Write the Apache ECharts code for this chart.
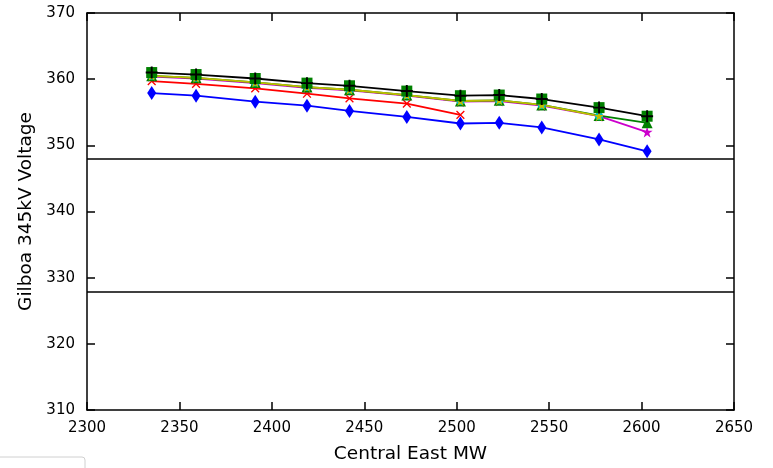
<!DOCTYPE html>
<html>
<head>
<meta charset="utf-8">
<script src="https://cdn.jsdelivr.net/npm/echarts@6/dist/echarts.min.js"></script>
<style>html,body{margin:0;padding:0;background:#fff;}#c{width:773px;height:468px;}</style>
</head>
<body>
<div id="c"></div>
<script>
const xValues = [2335, 2359, 2391, 2419, 2442, 2473, 2502, 2523, 2546, 2577, 2603];
const blackPlus = [361.0, 360.7, 360.1, 359.4, 359.0, 358.2, 357.5, 357.6, 357.0, 355.7, 354.4];
const greenSquare = [361.0, 360.7, 360.1, 359.4, 359.0, 358.2, 357.5, 357.6, 357.0, 355.7, 354.4];
const greenTriangle = [360.5, 360.2, 359.5, 358.8, 358.4, 357.6, 356.7, 356.8, 356.1, 354.5, 353.4];
const magentaStar = [360.4, 360.1, 359.4, 358.7, 358.3, 357.5, 356.6, 356.7, 356.0, 354.4, 352.0];
const yellowLine = [360.5, 360.2, 359.5, 358.8, 358.4, 357.6, 356.7, 356.8, 356.1, 354.4];
const redCross = [359.7, 359.3, 358.6, 357.8, 357.1, 356.3, 354.6];
const blueDiamond = [357.9, 357.5, 356.6, 356.0, 355.2, 354.3, 353.3, 353.4, 352.7, 350.9, 349.1];
const limitLines = [348.0, 327.8];
const xTicks = [2300, 2350, 2400, 2450, 2500, 2550, 2600, 2650];
const yTicks = [310, 320, 330, 340, 350, 360, 370];

function pairs(vals) { return vals.map((v, i) => [xValues[i], v]); }

const plusPath = 'path://M4.2,0h1.6v10h-1.6z M0,4.2h10v1.6h-10z';
const thinPlusPath = 'path://M4.4,0h1.2v10h-1.2z M0,4.4h10v1.2h-10z';
const starPath = 'path://M50,0 L61.8,35.4 L100,35.4 L69.1,57.3 L80.9,93.3 L50,71.4 L19.1,93.3 L30.9,57.3 L0,35.4 L38.2,35.4 Z';
const font = 'DejaVu Sans';

function lineSeries(name, vals, color, symbol, size, extra) {
  return Object.assign({
    name: name, type: 'line', data: pairs(vals),
    symbol: symbol, symbolSize: size,
    lineStyle: { color: color, width: 1.8 },
    itemStyle: { color: color },
    animation: false, z: 3
  }, extra || {});
}

const chart = echarts.init(document.getElementById('c'), null, { renderer: 'canvas' });
chart.setOption({
  animation: false,
  backgroundColor: '#fff',
  grid: { left: 87, right: 39, top: 13, bottom: 58, containLabel: false, outerBoundsMode: 'none' },
  xAxis: [{
    type: 'value', min: xTicks[0], max: xTicks[xTicks.length - 1], interval: 50,
    name: 'Central East MW', nameLocation: 'middle', nameGap: 35,
    nameTextStyle: { fontFamily: font, fontSize: 18.5, color: '#000' },
    axisLine: { show: true, onZero: false, lineStyle: { color: '#000', width: 1.5 } },
    axisTick: { show: true, inside: true, length: 8, lineStyle: { color: '#000', width: 1.5 } },
    axisLabel: { fontFamily: font, fontSize: 15, color: '#000', margin: 11, formatter: v => String(v) },
    splitLine: { show: false }
  }, {
    type: 'value', position: 'top', min: xTicks[0], max: xTicks[xTicks.length - 1], interval: 50,
    axisLine: { show: true, onZero: false, lineStyle: { color: '#000', width: 1.5 } },
    axisTick: { show: true, inside: true, length: 8, lineStyle: { color: '#000', width: 1.5 } },
    axisLabel: { show: false }, splitLine: { show: false }
  }],
  yAxis: [{
    type: 'value', min: yTicks[0], max: yTicks[yTicks.length - 1], interval: 10,
    name: 'Gilboa 345kV Voltage', nameLocation: 'middle', nameGap: 50, nameRotate: 90,
    nameTextStyle: { fontFamily: font, fontSize: 18.5, color: '#000' },
    axisLine: { show: true, onZero: false, lineStyle: { color: '#000', width: 1.5 } },
    axisTick: { show: true, inside: true, length: 8, lineStyle: { color: '#000', width: 1.5 } },
    axisLabel: { fontFamily: font, fontSize: 15, color: '#000', margin: 12 },
    splitLine: { show: false }
  }, {
    type: 'value', position: 'right', min: yTicks[0], max: yTicks[yTicks.length - 1], interval: 10,
    axisLine: { show: true, onZero: false, lineStyle: { color: '#000', width: 1.5 } },
    axisTick: { show: true, inside: true, length: 8, lineStyle: { color: '#000', width: 1.5 } },
    axisLabel: { show: false }, splitLine: { show: false }
  }],
  graphic: [{
    type: 'rect', shape: { x: -6, y: 457, width: 91, height: 30, r: 3 },
    style: { fill: '#fff', stroke: '#d0d0d0', lineWidth: 1 }, z: 10
  }],
  series: [
    lineSeries('blue', blueDiamond, '#0000ff', 'diamond', [9, 14], {
      markLine: {
        silent: true, symbol: 'none', animation: false,
        label: { show: false },
        lineStyle: { color: '#000', width: 1.5, type: 'solid' },
        data: limitLines.map(v => ({ yAxis: v }))
      }
    }),
    lineSeries('red', redCross, '#ff0000', thinPlusPath, 11, { symbolRotate: 45 }),
    lineSeries('magenta', magentaStar, '#cc00cc', starPath, 11),
    lineSeries('green', greenTriangle, '#008000', 'triangle', 11),
    lineSeries('cyan', yellowLine, '#00c0c0', 'circle', 8, { lineStyle: { width: 0, opacity: 0 } }),
    lineSeries('yellow', yellowLine, '#bfbf00', starPath, 10),
    lineSeries('greensq', greenSquare, '#008000', 'rect', 11, { lineStyle: { width: 0, opacity: 0 } }),
    lineSeries('black', blackPlus, '#000000', plusPath, 12)
  ]
});
</script>
</body>
</html>
